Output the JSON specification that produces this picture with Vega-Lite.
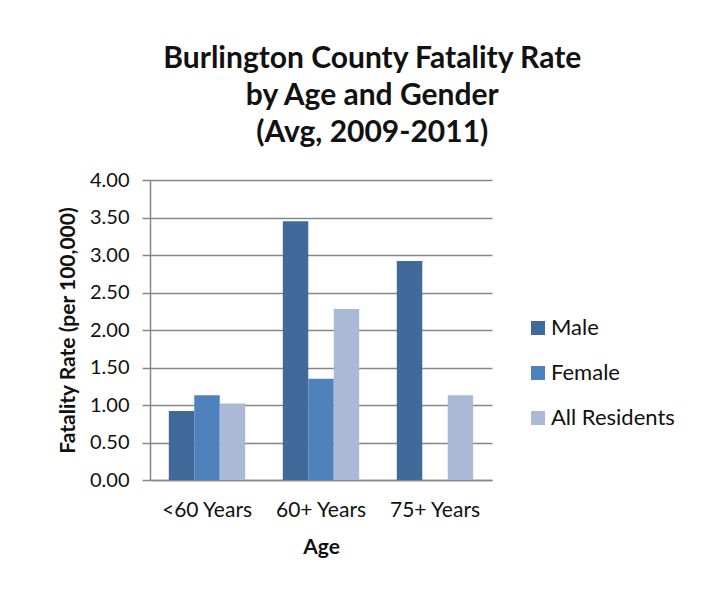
{
  "$schema": "https://vega.github.io/schema/vega-lite/v6.json",
  "width": 342,
  "height": 300,
  "padding": {"left": 57, "top": 44, "right": 5, "bottom": 5},
  "background": "white",
  "config": {
    "font": "Lato",
    "view": {"stroke": null},
    "axis": {"labelFont": "Lato", "titleFont": "Lato", "labelColor": "#111111", "titleColor": "#111111"}
  },
  "title": {
    "text": ["Burlington County Fatality Rate", "by Age and Gender", "(Avg, 2009-2011)"],
    "fontSize": 30,
    "fontWeight": "bold",
    "font": "Lato",
    "color": "#111111",
    "lineHeight": 37,
    "anchor": "middle",
    "frame": "bounds",
    "dx": 6,
    "offset": 22
  },
  "data": {
    "values": [
      {"age": "<60 Years", "group": "Male", "rate": 0.92},
      {"age": "<60 Years", "group": "Female", "rate": 1.13},
      {"age": "<60 Years", "group": "All Residents", "rate": 1.02},
      {"age": "60+ Years", "group": "Male", "rate": 3.45},
      {"age": "60+ Years", "group": "Female", "rate": 1.35},
      {"age": "60+ Years", "group": "All Residents", "rate": 2.28},
      {"age": "75+ Years", "group": "Male", "rate": 2.92},
      {"age": "75+ Years", "group": "All Residents", "rate": 1.13}
    ]
  },
  "mark": {"type": "bar"},
  "encoding": {
    "x": {
      "field": "age",
      "type": "nominal",
      "sort": ["<60 Years", "60+ Years", "75+ Years"],
      "scale": {"paddingInner": 0.33, "paddingOuter": 0.165},
      "axis": {
        "title": "Age",
        "labelAngle": 0,
        "labelFontSize": 21,
        "labelPadding": 19,
        "titleFontSize": 21,
        "titleFontWeight": "bold",
        "titlePadding": 16,
        "ticks": false,
        "domainColor": "#868686",
        "domainWidth": 1.5
      }
    },
    "xOffset": {
      "field": "group",
      "type": "nominal",
      "scale": {"domain": ["Male", "Female", "All Residents"], "paddingInner": 0, "paddingOuter": 0}
    },
    "y": {
      "field": "rate",
      "type": "quantitative",
      "scale": {"domain": [0, 4]},
      "axis": {
        "title": "Fatality Rate (per 100,000)",
        "values": [0, 0.5, 1, 1.5, 2, 2.5, 3, 3.5, 4],
        "format": ".2f",
        "labelFontSize": 20,
        "labelPadding": 13,
        "titleFontSize": 21,
        "titleFontWeight": "bold",
        "titlePadding": 11,
        "tickSize": 8,
        "tickColor": "#868686",
        "tickWidth": 1.5,
        "domainColor": "#868686",
        "domainWidth": 1.5,
        "grid": true,
        "gridColor": "#868686",
        "gridWidth": 1.5
      }
    },
    "color": {
      "field": "group",
      "type": "nominal",
      "scale": {"domain": ["Male", "Female", "All Residents"], "range": ["#41699A", "#4F81BD", "#AAB9D6"]},
      "legend": {
        "title": null,
        "orient": "none",
        "legendX": 377,
        "legendY": 137,
        "symbolType": "square",
        "symbolSize": 196,
        "symbolStrokeWidth": 0,
        "labelFontSize": 22,
        "labelFont": "Lato",
        "labelColor": "#111111",
        "labelOffset": 2,
        "rowPadding": 23
      }
    }
  }
}
